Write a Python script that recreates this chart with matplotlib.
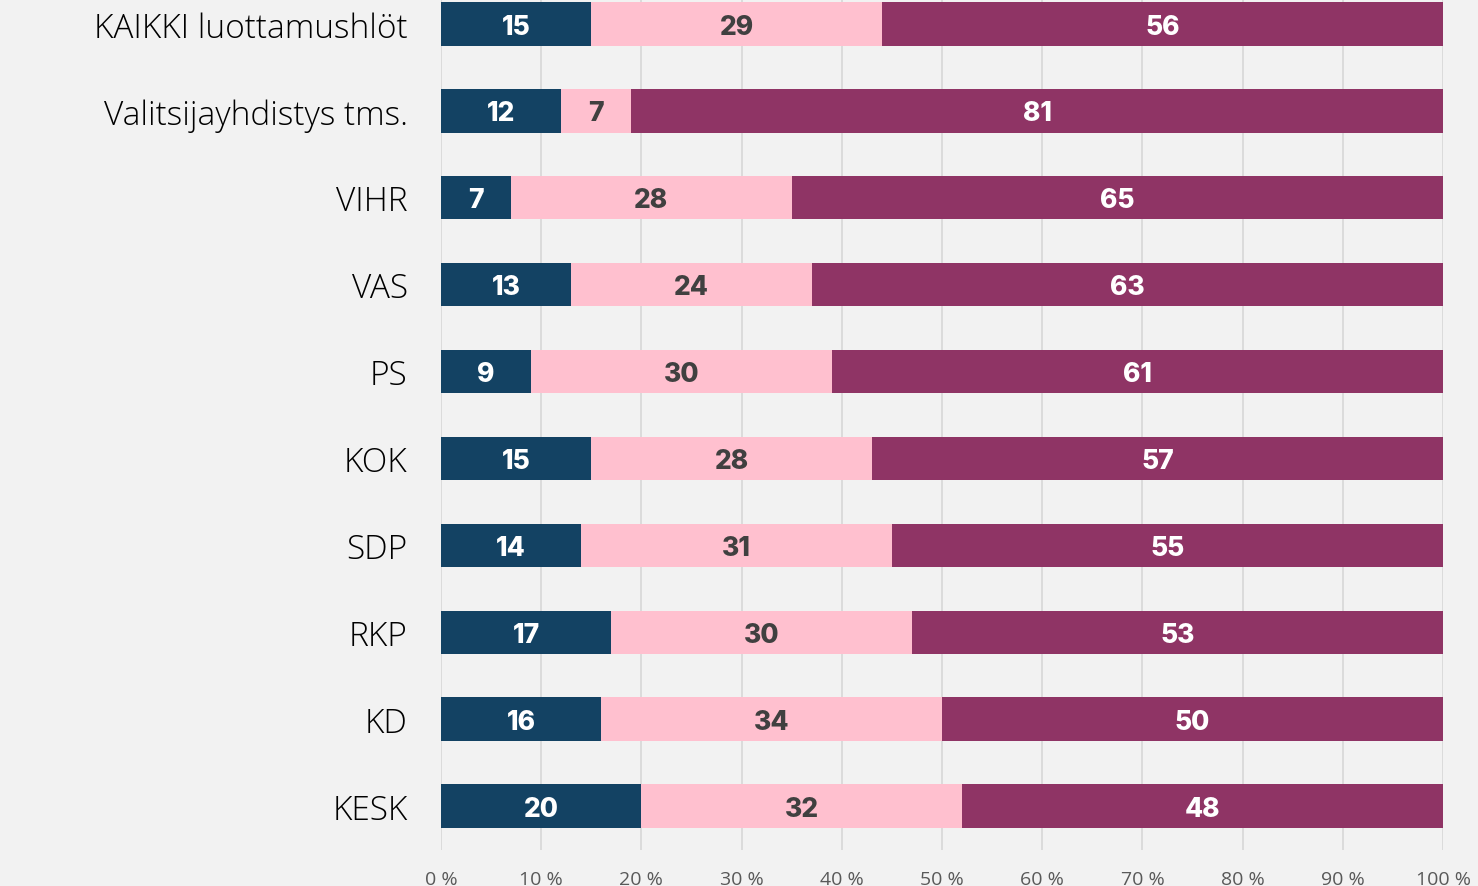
import numpy as np
import matplotlib.pyplot as plt

# data (percent)
categories = ['KAIKKI luottamushlöt', 'Valitsijayhdistys tms.', 'VIHR', 'VAS', 'PS',
              'KOK', 'SDP', 'RKP', 'KD', 'KESK']
part1 = [15, 12, 7, 13, 9, 15, 14, 17, 16, 20]
part2 = [29, 7, 28, 24, 30, 28, 31, 30, 34, 32]
part3 = [56, 81, 65, 63, 61, 57, 55, 53, 50, 48]

colors = ['#134263', '#ffc0cf', '#8f3465']
text_colors = ['white', '#404040', 'white']
bg = '#f2f2f2'

fig = plt.figure(figsize=(14.78, 8.87), dpi=100, facecolor=bg)
ax = fig.add_axes([441/1478, 36.5/887, 1002/1478, 869/887])
ax.set_facecolor(bg)

y = np.arange(len(categories))
left = np.zeros(len(categories))
for vals, c, tc in zip([part1, part2, part3], colors, text_colors):
    vals = np.array(vals)
    ax.barh(y, vals, left=left, height=0.5, color=c, zorder=3)
    for yi, l, v in zip(y, left, vals):
        ax.text(l + v/2, yi + 0.03, str(v), ha='center', va='center', color=tc,
                fontsize=19, fontweight='heavy', family='Inter', zorder=4)
    left = left + vals

ax.set_xlim(0, 100)
ax.set_ylim(len(categories) - 0.5, -0.5)
ax.set_xticks(np.arange(0, 101, 10))
ax.set_xticklabels([f'{t} %' for t in range(0, 101, 10)], fontsize=14,
                   color='#595959', family='Open Sans')
ax.set_yticks(y)
ax.set_yticklabels(categories, fontsize=24, family='Open Sans',
                   fontweight='light', color='black')
ax.tick_params(axis='both', length=0)
ax.tick_params(axis='y', pad=24)
ax.tick_params(axis='x', pad=15)
ax.grid(axis='x', color='#d9d9d9', linewidth=1.3, zorder=0)
for s in ax.spines.values():
    s.set_visible(False)

plt.savefig('out.png', dpi=100, facecolor=bg)
